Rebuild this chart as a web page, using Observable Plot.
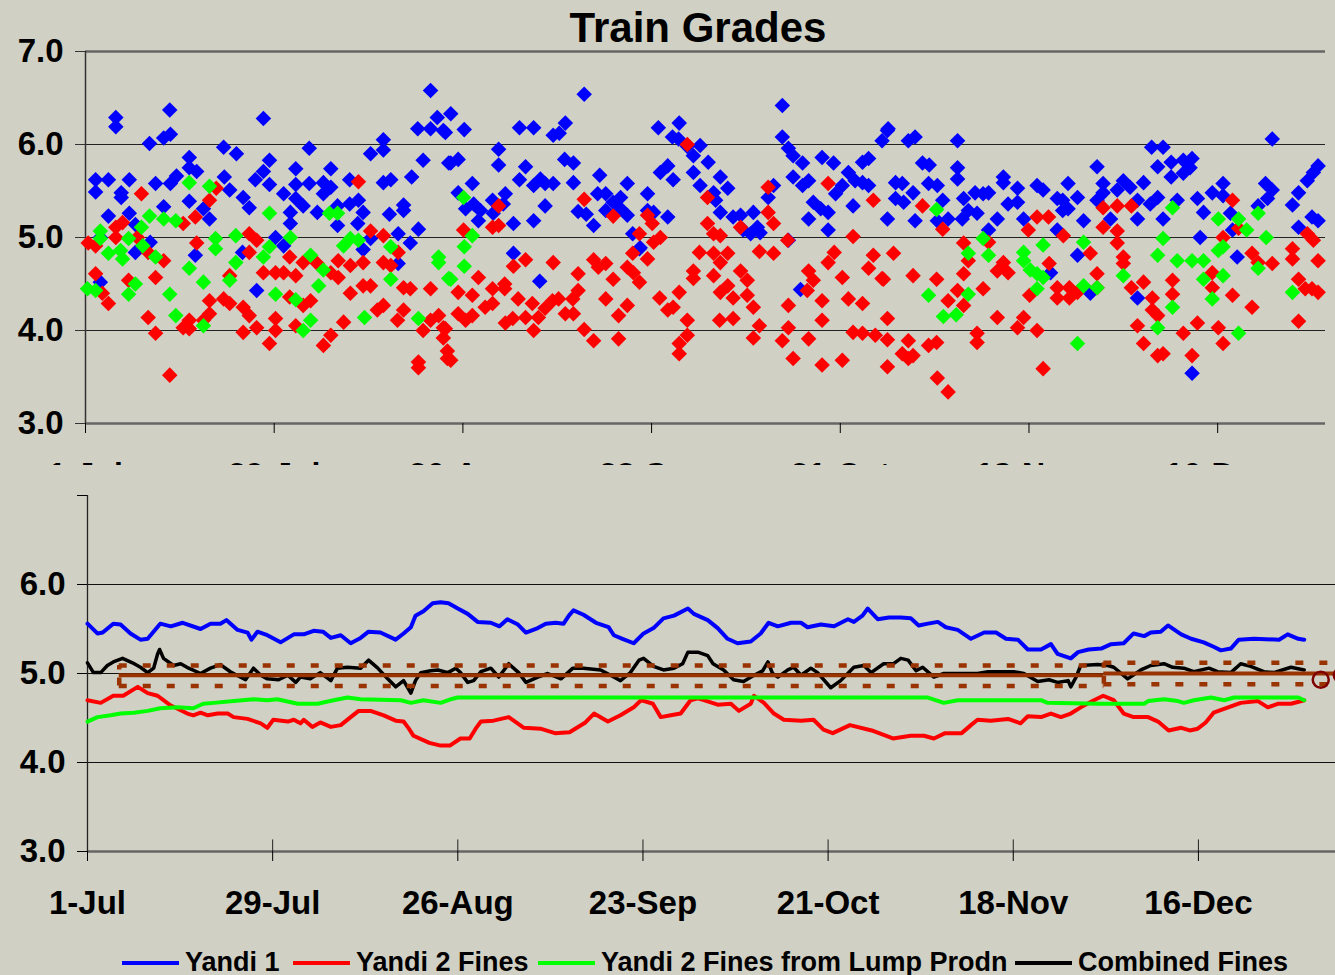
<!DOCTYPE html>
<html><head><meta charset="utf-8">
<script src="https://cdn.jsdelivr.net/npm/d3@7"></script>
<script src="https://cdn.jsdelivr.net/npm/@observablehq/plot@0.6"></script>
<style>
html,body{margin:0;padding:0;}
body{width:1335px;height:975px;overflow:hidden;position:relative;background:#D0D0C4;font-family:"Liberation Sans",Arial,sans-serif;font-weight:700;color:#000;}
#top{position:absolute;left:0;top:0;width:1335px;height:465px;overflow:hidden;}
#bottom{position:absolute;left:0;top:470px;width:1350px;height:460px;background:#D0D0C4;}
#title{position:absolute;left:0;width:1396px;text-align:center;top:7px;font-size:42px;line-height:42px;z-index:2;}
.leg{position:absolute;top:948px;font-size:27px;line-height:28px;white-space:nowrap;}
.sw{position:absolute;top:961px;height:4px;width:57px;}
</style></head>
<body>
<div id="top"></div>
<div id="title">Train Grades</div>
<div id="bottom"></div>
<div id="legend"></div>
<script>
// ---------- data ----------
const startDate = Date.UTC(2003, 6, 1);
const tickDays = [0, 28, 56, 84, 112, 140, 168];
const tickLabels = ["1-Jul", "29-Jul", "26-Aug", "23-Sep", "21-Oct", "18-Nov", "16-Dec"];
const yTicks = [3, 4, 5, 6, 7];
const gridValues = [4, 5, 6];
const seriesNames = ["Yandi 1", "Yandi 2 Fines", "Yandi 2 Fines from Lump Prodn", "Combined Fines"];
const seriesColors = ["#0000FF", "#FF0000", "#00FF00", "#000000"];

// top panel: individual trains [day since 1-Jul, grade]
const yandi1Trains = [[1.5,5.62],[1.5,5.49],[4.5,6.29],[4.5,6.19],[3.4,5.62],[3.4,5.23],[5.3,5.48],[5.3,5.43],[6.5,5.62],[6.5,5.26],[7.4,5.14],[9.5,6.01],[10.4,5.58],[11.6,5.33],[11.6,6.07],[12.6,6.11],[12.5,6.37],[12.6,5.58],[13.5,5.66],[15.4,5.86],[15.4,5.75],[16.5,5.71],[15.4,5.39],[17.5,5.31],[18.4,5.2],[20.5,5.97],[22.4,5.9],[20.6,5.65],[21.4,5.51],[23.4,5.43],[24.3,5.32],[26.4,6.28],[26.4,5.71],[27.3,5.83],[27.3,5.57],[25.2,5.62],[29.4,5.47],[31.2,5.74],[31.2,5.57],[30.4,5.27],[30.4,5.15],[31.2,5.42],[32.3,5.34],[33.2,5.96],[33.2,5.58],[34.4,5.27],[35.3,5.59],[35.3,5.47],[36.4,5.74],[36.4,5.54],[37.4,5.34],[37.4,5.13],[39.2,5.62],[39.2,5.36],[40.5,5.4],[40.4,5.15],[41.2,5.27],[42.3,5.9],[44.2,6.05],[44.2,5.94],[44.2,5.59],[45.3,5.62],[45.1,5.25],[47.2,5.35],[47.2,5.29],[48.4,5.65],[49.4,5.09],[49.3,6.17],[50.1,5.83],[51.2,6.58],[51.2,6.17],[52.2,6.29],[53.1,6.15],[53.9,5.8],
[2.2,5.0],[2.2,4.52],[7.4,4.84],[9.6,4.95],[16.3,4.81],[25.4,4.43],[23.3,4.84],[28.2,5.0],[29.4,4.91],[41.2,4.87],[42.3,4.99],[46.4,5.04],[46.4,4.72],[48.2,4.94],
[53.4,6.13],[54.2,6.33],[56.2,6.16],[54.2,5.8],[55.3,5.84],[61.3,5.95],[61.3,5.78],[55.3,5.48],[56.4,5.31],[57.4,5.58],[58.3,5.18],[57.6,5.36],[58.6,5.29],[60.4,5.4],[60.5,5.26],[62.3,5.47],[62.0,5.36],[63.5,5.15],[64.4,6.18],[66.5,6.18],[64.4,5.62],[65.3,5.76],[66.5,5.18],[66.5,5.56],[67.5,5.63],[68.2,5.58],[69.4,5.58],[68.2,5.34],[69.4,6.1],[70.3,6.12],[71.2,6.23],[71.1,5.84],[72.4,5.8],[72.4,5.59],[74.0,6.54],[73.1,5.28],[74.3,5.25],[75.4,5.13],[76.3,5.67],[76.0,5.47],[77.2,5.47],[77.2,5.29],[78.3,5.38],[79.4,5.43],[79.4,5.31],[80.4,5.58],[80.4,5.24],[81.2,5.04],[82.3,4.89],[83.4,5.47],[83.4,5.29],[84.3,5.27],[86.4,5.22],[85.0,6.18],[88.1,6.23],[87.1,6.08],[88.0,6.06],[89.3,5.98],[90.2,5.88],[91.2,5.99],[85.3,5.7],[86.4,5.77],[87.2,5.62],[90.2,5.7],[91.2,5.56],[92.4,5.81],[94.2,5.65],[95.3,5.53],[93.2,5.48],[93.5,5.4],[94.2,5.27],[96.1,5.22],[97.2,5.24],[97.6,5.08],[98.7,5.04],[99.1,5.27],[99.7,5.11],[100.1,5.05],[101.3,5.43],[102.1,5.56],[103.4,6.42],[103.4,6.08],[104.3,5.96],[105.0,5.88],[106.4,5.8],[105.0,5.65],[106.4,5.56],[107.3,5.61],[107.3,5.2],[108.0,5.38],[109.3,5.86],[109.1,5.31],[110.2,5.27],[110.2,5.08],[111.0,5.8],[111.3,5.47],[112.3,5.56],[113.2,5.7],[114.2,5.61],[113.9,5.34],[115.3,5.59],[115.3,5.81],[116.2,5.85],[116.2,5.56],[118.2,6.04],[119.0,6.15],[119.0,5.2],
[63.5,4.83],[67.4,4.53],[82.2,4.88],[106.1,4.44],[104.3,4.97],
[119.1,6.17],[122.1,6.04],[123.1,6.08],[129.4,6.04],[120.2,5.59],[121.2,5.58],[120.2,5.42],[121.4,5.38],[122.8,5.48],[123.1,5.18],[124.2,5.8],[125.2,5.78],[125.1,5.58],[126.4,5.56],[127.2,5.4],[128.0,5.2],[126.4,5.18],[129.4,5.75],[129.4,5.63],[130.3,5.42],[130.1,5.2],[131.0,5.29],[132.3,5.26],[132.0,5.48],[133.2,5.47],[134.0,5.48],[135.3,5.2],[134.0,5.08],[136.2,5.65],[136.2,5.59],[136.9,5.36],[138.3,5.53],[138.3,5.38],[139.2,5.2],[141.2,5.56],[142.1,5.51],[144.2,5.42],[144.2,5.08],[145.0,5.4],[145.0,5.29],[145.8,5.58],[145.8,5.31],[147.2,5.43],[148.1,5.18],[150.1,5.76],[150.1,5.4],[151.0,5.58],[151.0,5.48],[152.1,5.2],[153.1,5.51],[154.0,5.61],[155.0,5.54],[156.1,5.4],[157.0,5.59],[156.1,5.2],[158.2,5.97],[159.9,5.97],[159.1,5.76],[161.1,5.81],[161.1,5.65],[162.9,5.83],[164.2,5.85],[163.9,5.75],[162.9,5.69],[158.0,5.36],[159.1,5.43],[159.9,5.2],[162.0,5.4],[165.0,5.42],[165.9,5.27],[167.2,5.48],[168.8,5.58],[168.8,5.45],[169.9,5.26],[170.2,5.08],[165.4,5.0],[174.0,5.34],[175.1,5.58],[176.1,5.51],[175.4,5.42],[176.1,6.06],[179.1,5.35],[180.0,5.48],[180.0,5.11],[181.3,5.61],[182.2,5.7],[182.9,5.77],[182.0,5.22],[182.9,5.18],
[164.2,3.54],[156.1,4.35],[147.2,4.81],[170.9,4.79],[143.2,4.62],[149.1,4.4]];

const yandi2Trains = [[0.4,4.94],[1.5,4.91],[1.5,4.61],[2.5,4.4],[3.4,4.29],[4.5,5.0],[4.5,5.11],[5.5,5.16],[6.4,4.54],[7.7,5.0],[8.3,5.47],[9.3,4.14],[9.3,4.84],[10.4,3.97],[10.4,4.57],[11.6,4.75],[12.5,3.52],[14.5,4.03],[14.5,5.15],[15.4,4.11],[15.4,4.02],[16.5,4.94],[16.3,5.22],[17.5,4.11],[18.4,4.32],[18.4,4.18],[18.4,5.4],[19.4,5.53],[20.5,4.34],[21.4,4.29],[21.4,4.59],[23.4,3.98],[23.4,4.25],[24.3,4.16],[25.4,4.03],[24.3,5.04],[25.4,4.97],[24.3,4.84],[26.4,4.62],[27.3,3.86],[28.2,4.62],[28.2,4.13],[28.2,4.0],[29.4,4.62],[30.3,4.79],[31.2,4.59],[30.3,4.36],[31.2,4.05],[32.3,4.73],[33.4,4.32],[32.3,4.27],[34.4,4.72],[35.3,3.84],[36.4,3.95],[36.4,4.62],[37.5,4.75],[37.5,4.57],[38.3,4.09],[39.3,4.7],[39.3,4.4],[40.5,5.6],[41.2,4.48],[41.2,4.73],[42.3,5.07],[42.3,4.48],[44.2,5.02],[44.2,4.73],[43.3,4.22],[44.2,4.27],[45.3,4.7],[46.4,4.84],[46.3,4.11],[47.2,4.46],[47.2,4.22],[48.2,4.45],[49.4,3.66],[49.4,3.6],[51.2,4.45],[50.1,4.0],[51.2,4.11],[52.4,4.16],[53.1,3.92],[53.7,3.78],[53.7,3.7],[53.1,4.03],
[56.1,5.08],[55.3,4.41],[57.4,4.38],[58.3,4.57],[55.3,4.18],[56.4,4.11],[57.4,4.16],[53.4,4.02],[54.2,3.68],[60.4,5.11],[61.3,5.13],[61.3,5.34],[59.3,4.25],[60.4,4.45],[60.4,4.29],[62.2,4.5],[62.2,4.45],[63.5,4.69],[65.3,4.76],[64.2,4.34],[62.3,4.08],[63.4,4.13],[65.3,4.14],[66.3,4.29],[66.5,4.0],[67.2,4.14],[68.2,4.24],[69.3,4.32],[70.2,4.34],[69.4,4.73],[71.2,4.18],[72.3,4.34],[72.4,4.18],[73.1,4.43],[73.1,4.61],[74.0,4.01],[74.0,5.41],[75.4,3.89],[75.4,4.76],[76.1,4.68],[77.2,4.72],[77.2,4.34],[78.3,4.55],[78.3,5.23],[79.1,4.16],[79.1,3.91],[80.4,4.27],[80.4,4.68],[81.2,4.83],[81.3,4.62],[82.2,4.52],[82.2,5.04],[83.4,4.77],[83.4,5.24],[84.1,5.15],[84.3,4.95],[85.3,5.0],[85.2,4.35],[86.4,4.22],[87.2,4.25],[88.1,4.41],[89.3,4.11],[89.3,3.95],[88.1,3.86],[88.1,3.75],[89.3,6.0],[90.2,4.64],[90.2,4.56],[91.1,4.84],[92.3,5.43],[92.3,5.15],[93.2,5.04],[93.2,4.83],[93.2,4.59],[94.2,5.02],[94.2,4.73],[95.3,4.83],[94.2,4.41],[95.3,4.48],[96.1,4.35],[94.1,4.11],[96.1,4.13],[97.2,4.64],[97.2,5.11],[98.2,4.54],[98.2,4.38],[99.1,4.25],[100.0,4.05],[99.1,3.92],[100.0,4.85],[101.3,5.54],[101.3,5.27],[102.1,4.83],[102.1,5.15],[104.2,4.97],[104.3,4.27],[104.3,4.03],[103.4,3.89],[105.0,3.7],[107.1,4.43],[107.3,4.64],[108.0,4.54],[107.3,3.91],[109.3,4.32],[109.3,4.11],[109.3,3.63],[110.2,4.73],[110.2,5.58],[111.1,4.84],[112.3,4.57],[112.3,3.68],[113.2,4.34],[113.9,5.01],[113.9,3.98],[115.3,4.29],[115.3,3.97],[116.2,4.67],[116.9,4.81],[116.9,5.4],[117.2,3.95],[118.2,4.56],[119.0,4.13],[119.0,3.9],[119.0,3.61],
[119.9,4.83],[118.4,4.55],[122.1,3.89],[121.2,3.75],[122.1,3.7],[122.8,3.73],[122.8,4.59],[124.2,5.34],[125.1,3.84],[126.3,3.87],[126.3,4.55],[126.4,3.49],[127.2,5.09],[128.0,3.34],[128.0,4.32],[129.4,4.43],[130.3,4.27],[130.3,4.61],[130.3,4.94],[131.0,4.75],[132.3,3.97],[132.3,3.87],[133.2,4.45],[134.0,4.95],[135.3,4.14],[135.3,4.64],[136.2,4.73],[136.9,4.62],[138.3,4.03],[139.2,4.14],[139.9,5.08],[140.1,4.38],[141.2,4.0],[141.2,5.22],[142.1,3.59],[142.9,5.22],[143.0,4.72],[144.2,4.46],[144.2,4.35],[145.1,5.02],[146.0,4.46],[146.0,4.35],[147.2,4.41],[149.1,4.83],[150.1,4.61],[150.1,4.46],[151.0,5.11],[151.0,5.32],[153.1,5.07],[153.1,4.94],[153.1,5.34],[154.0,4.79],[154.0,4.72],[155.2,4.46],[155.2,5.34],[157.0,4.52],[158.3,4.35],[158.3,4.22],[159.1,4.16],[156.1,4.05],[157.0,3.86],[159.1,3.73],[159.9,3.75],[161.3,4.54],[161.3,4.39],[162.9,3.97],[164.2,3.73],[165.0,4.08],[167.2,4.62],[167.2,4.46],[168.1,4.03],[168.8,3.86],[168.8,5.0],[170.2,4.38],[170.2,5.4],[171.1,5.1],[173.1,4.25],[173.1,4.83],[174.0,4.73],[176.1,4.72],[179.1,4.88],[179.1,4.77],[180.0,4.55],[180.0,4.1],[181.0,4.45],[182.0,4.45],[182.9,4.41],[182.9,4.75],[181.3,5.04],[182.2,4.97]];

const lumpTrains = [[0.3,4.45],[1.5,4.43],[2.2,5.07],[2.2,4.99],[3.4,4.83],[5.2,4.86],[5.5,4.77],[6.4,4.99],[6.4,4.39],[7.4,4.5],[8.3,5.11],[8.5,4.91],[9.5,5.23],[10.4,4.79],[11.6,5.2],[12.5,4.39],[13.4,5.18],[13.4,4.16],[15.4,5.59],[15.4,4.67],[17.5,4.52],[17.5,4.05],[18.4,5.55],[19.3,4.99],[19.3,4.88],[21.4,4.54],[22.3,5.02],[22.3,4.73],[26.4,4.79],[27.3,5.26],[27.3,4.9],[28.2,4.39],[30.4,5.0],[31.2,4.33],[32.3,4.0],[33.4,4.11],[33.4,4.81],[34.6,4.48],[35.3,4.65],[36.2,5.26],[37.4,5.26],[38.3,4.91],[39.3,4.99],[40.5,4.97],[41.4,4.14],[45.3,4.9],[45.3,4.55],[49.4,4.13],[52.4,4.79],[52.4,4.73],[53.9,4.56],[54.2,4.55],[56.2,4.9],[56.2,4.69],[57.4,5.02],[56.1,5.43],
[125.1,4.38],[126.3,5.3],[127.3,4.15],[129.2,4.17],[131.0,4.39],[131.0,4.83],[133.2,4.99],[134.0,4.81],[139.2,4.84],[139.2,4.75],[140.2,4.65],[141.2,4.61],[142.1,4.57],[142.1,4.92],[141.2,4.45],[147.2,3.86],[148.1,4.95],[148.1,4.48],[150.1,4.46],[154.0,4.59],[159.9,4.99],[159.1,4.81],[159.1,4.03],[161.3,4.25],[161.3,5.32],[162.0,4.75],[164.2,4.75],[165.9,4.75],[165.9,4.55],[167.2,4.34],[168.1,4.86],[168.1,5.2],[168.8,4.59],[168.8,4.9],[171.1,3.97],[171.1,5.2],[172.3,5.08],[174.0,4.67],[174.0,5.26],[175.2,5.0],[179.1,4.41]];

// bottom panel: rolling averages [day, grade]
const yandi1Avg = [[0,5.56],[1.5,5.45],[2.3,5.46],[3.9,5.56],[5.0,5.55],[6.5,5.45],[8.0,5.38],[9.1,5.39],[11.0,5.56],[12.6,5.53],[14.4,5.57],[17.1,5.5],[18.6,5.56],[20.1,5.56],[21.0,5.6],[22.7,5.49],[24.2,5.46],[24.8,5.38],[25.7,5.47],[27.2,5.43],[29.2,5.35],[31.2,5.44],[32.7,5.44],[34.2,5.48],[35.6,5.47],[36.8,5.4],[38.3,5.43],[39.8,5.34],[41.3,5.4],[42.5,5.47],[44.3,5.46],[46.6,5.38],[47.8,5.45],[48.9,5.52],[49.6,5.65],[50.8,5.7],[52.2,5.79],[53.4,5.8],[54.6,5.79],[56.0,5.73],[57.5,5.67],[59.0,5.58],[61.0,5.57],[62.3,5.53],[63.5,5.61],[65.1,5.55],[66.3,5.46],[68.1,5.51],[69.3,5.56],[70.8,5.57],[72.0,5.56],[72.8,5.65],[73.5,5.71],[75.0,5.66],[76.9,5.57],[78.8,5.52],[79.6,5.43],[80.9,5.39],[82.6,5.34],[84.1,5.45],[85.6,5.51],[87.1,5.62],[88.7,5.65],[90.8,5.73],[91.7,5.67],[93.8,5.6],[95.3,5.51],[96.8,5.39],[98.3,5.34],[100.3,5.36],[101.8,5.45],[103.0,5.57],[104.4,5.53],[106.4,5.57],[107.9,5.57],[108.9,5.52],[110.9,5.55],[112.9,5.53],[115.0,5.61],[115.9,5.58],[117.2,5.65],[118.0,5.73],[119.5,5.61],[121.2,5.63],[123.0,5.63],[124.5,5.62],[125.7,5.54],[127.1,5.56],[128.6,5.58],[129.8,5.52],[131.6,5.49],[133.6,5.39],[135.6,5.46],[137.4,5.46],[138.9,5.39],[140.7,5.38],[142.2,5.27],[144.2,5.27],[145.7,5.33],[146.7,5.22],[148.7,5.17],[149.8,5.24],[151.4,5.27],[153.3,5.28],[154.8,5.33],[156.7,5.34],[158.2,5.45],[159.8,5.42],[160.8,5.46],[162.3,5.47],[163.4,5.54],[165.4,5.44],[166.9,5.39],[168.8,5.35],[170.3,5.3],[171.4,5.26],[172.9,5.28],[174.1,5.38],[176.4,5.39],[180.2,5.38],[181.5,5.44],[183.1,5.39],[184.0,5.38]];

const yandi2Avg = [[0,4.70],[2.0,4.67],[3.9,4.75],[5.4,4.75],[7.6,4.85],[9.1,4.78],[10.6,4.75],[12.6,4.64],[15.1,4.55],[16.0,4.53],[17.1,4.56],[18.2,4.53],[19.7,4.55],[21.2,4.55],[22.1,4.51],[24.2,4.49],[26.2,4.44],[27.2,4.39],[28.1,4.48],[30.3,4.46],[31.2,4.48],[32.2,4.44],[32.7,4.48],[34.0,4.40],[35.2,4.45],[36.8,4.40],[38.3,4.42],[39.8,4.51],[41.0,4.58],[42.8,4.58],[44.8,4.53],[46.6,4.47],[47.8,4.46],[48.6,4.38],[49.3,4.30],[51.7,4.22],[53.4,4.19],[54.8,4.19],[56.4,4.27],[57.8,4.27],[58.7,4.38],[59.5,4.46],[61.4,4.47],[63.7,4.51],[66.0,4.39],[68.5,4.38],[70.7,4.33],[72.9,4.34],[75.3,4.45],[76.6,4.55],[78.7,4.46],[80.6,4.53],[82.6,4.62],[83.7,4.70],[85.5,4.66],[86.7,4.51],[88.2,4.53],[89.7,4.55],[91.2,4.70],[92.3,4.72],[93.2,4.70],[95.3,4.65],[97.3,4.66],[98.5,4.58],[100.3,4.66],[100.8,4.75],[102.3,4.67],[103.8,4.55],[105.3,4.48],[107.9,4.47],[109.8,4.48],[111.3,4.37],[112.7,4.33],[115.3,4.42],[118.6,4.36],[121.8,4.27],[124.5,4.30],[126.5,4.30],[128.0,4.27],[129.7,4.33],[132.2,4.33],[133.6,4.42],[134.6,4.48],[136.6,4.47],[139.2,4.49],[141.1,4.44],[142.2,4.52],[144.2,4.51],[145.7,4.55],[147.2,4.51],[148.7,4.55],[150.2,4.62],[152.2,4.70],[153.6,4.75],[155.2,4.70],[156.7,4.55],[158.2,4.51],[160.4,4.51],[161.9,4.46],[163.5,4.36],[165.4,4.39],[166.7,4.36],[167.9,4.38],[169.1,4.45],[170.3,4.56],[172.5,4.62],[174.4,4.67],[177.0,4.69],[178.5,4.62],[180.0,4.66],[182.0,4.66],[184.0,4.70]];

const lumpAvg = [[0,4.46],[1.5,4.51],[3.5,4.53],[5.0,4.55],[7.0,4.56],[9.1,4.58],[11.0,4.61],[13.6,4.62],[16.0,4.61],[17.5,4.66],[19.1,4.67],[22.1,4.69],[25.1,4.71],[27.2,4.70],[28.7,4.71],[31.8,4.66],[34.8,4.66],[37.2,4.70],[39.3,4.73],[41.3,4.71],[47.4,4.70],[48.9,4.67],[50.8,4.70],[53.4,4.67],[54.9,4.71],[56.0,4.73],[120.0,4.73],[127.1,4.73],[129.5,4.67],[131.6,4.70],[144.2,4.70],[145.2,4.67],[152.8,4.66],[159.8,4.66],[160.4,4.69],[162.8,4.71],[164.9,4.69],[165.8,4.67],[167.3,4.70],[169.9,4.73],[171.9,4.70],[173.4,4.73],[183.1,4.73],[184.0,4.70]];

const combinedAvg = [[0,5.12],[0.9,5.01],[2.0,5.01],[3.0,5.09],[3.9,5.13],[5.3,5.17],[6.8,5.12],[8.0,5.07],[9.1,5.01],[10.0,5.06],[10.6,5.22],[10.9,5.27],[11.5,5.17],[13.0,5.09],[14.1,5.11],[15.3,5.06],[17.1,5.0],[18.6,5.06],[20.1,5.1],[21.6,5.02],[23.1,4.96],[23.9,4.93],[25.1,5.06],[26.2,4.98],[27.2,4.94],[28.9,4.93],[30.3,4.98],[31.5,4.9],[32.2,4.96],[33.7,4.94],[35.2,5.01],[36.8,4.92],[37.8,5.06],[39.3,5.07],[41.3,5.06],[42.5,5.15],[43.9,5.06],[45.4,4.94],[46.6,4.85],[47.8,4.92],[48.9,4.78],[49.6,4.92],[50.4,5.01],[51.9,5.03],[53.0,5.04],[54.5,5.01],[55.7,5.06],[56.4,5.01],[57.5,4.9],[58.4,4.92],[59.5,5.02],[61.0,5.06],[62.2,4.96],[63.7,5.11],[65.2,5.01],[66.3,4.9],[68.1,4.96],[69.6,5.0],[71.6,4.94],[73.4,5.06],[75.0,5.06],[77.6,5.04],[79.1,4.98],[80.6,4.92],[82.1,5.01],[83.4,5.15],[84.1,5.17],[85.6,5.08],[87.1,5.04],[88.7,5.06],[90.0,5.11],[90.8,5.24],[92.3,5.24],[93.8,5.2],[94.6,5.11],[96.2,5.04],[97.7,4.93],[99.2,4.91],[100.8,4.98],[102.1,5.03],[102.9,5.13],[103.6,5.0],[104.4,4.96],[105.9,5.04],[106.8,5.07],[107.9,4.98],[109.4,5.06],[110.4,5.01],[112.4,4.84],[113.9,4.92],[115.9,5.07],[117.4,5.09],[118.5,5.01],[120.4,5.11],[121.9,5.11],[123.0,5.17],[124.1,5.15],[125.3,5.03],[126.3,5.07],[128.0,4.96],[129.5,5.0],[132.1,5.0],[134.6,5.0],[136.2,5.02],[140.1,5.02],[141.6,5.0],[143.7,4.91],[145.4,4.93],[146.7,4.9],[148.3,4.92],[148.7,4.85],[149.5,4.96],[150.2,5.09],[152.8,5.1],[154.3,5.09],[155.2,5.07],[157.3,4.94],[159.3,5.04],[160.8,5.09],[162.8,5.11],[164.1,5.07],[165.8,5.06],[167.3,5.02],[169.6,5.06],[170.9,5.02],[172.9,5.01],[174.4,5.11],[175.9,5.08],[177.9,5.02],[179.4,5.01],[182.0,5.07],[184.0,5.04]];

// target bands
const targetStart = [4.8, 153.7];
const targetEnd = [153.7, 191];
const targetMid = [4.98, 5.0];
const targetUpper = [5.09, 5.12];
const targetLower = [4.86, 4.88];
// end-of-period markers [day, grade]
const openMarker = [[186.5, 4.93]];
const filledMarker = [[189.5, 4.98]];

// ---------- build ----------
const day = d => new Date(startDate + d * 86400000);
const toObj = arr => arr.map(([d, v]) => ({date: day(d), value: v}));
const tickDates = tickDays.map(day);
const labelMap = new Map(tickDates.map((d, i) => [+d, tickLabels[i]]));
const fmtX = d => labelMap.get(+d) ?? "";
const targets = targetStart.map((s, i) => ({start: day(s), end: day(targetEnd[i]), mid: targetMid[i], hi: targetUpper[i], lo: targetLower[i]}));
const brown = "#993300";
const font = '"Liberation Sans", Arial, sans-serif';
const baseStyle = {background: "none", fontFamily: font, fontWeight: "bold", color: "#000", maxWidth: "none", overflow: "hidden"};

const topPlot = Plot.plot({
  width: 1335, height: 520,
  marginTop: 51, marginBottom: 97, marginLeft: 85, marginRight: 10,
  x: {type: "utc", domain: [day(0), day(184)], label: null},
  y: {domain: [3, 7], label: null},
  style: baseStyle,
  marks: [
    Plot.ruleY(gridValues, {stroke: "#222", strokeWidth: 1.2}),
    Plot.ruleY([7], {stroke: "#666", strokeWidth: 2.5}),
    Plot.ruleY([3], {stroke: "#666", strokeWidth: 2.5}),
    Plot.ruleX([day(0)], {stroke: "#333", strokeWidth: 1.5}),
    Plot.axisY({ticks: yTicks, tickFormat: d => d.toFixed(1), tickSize: 10, tickPadding: 12, fontSize: 33, fontWeight: "bold", stroke: "#333"}),
    Plot.axisX({ticks: tickDates, tickFormat: fmtX, tickSize: 10, tickPadding: 29, fontSize: 32, fontWeight: "bold"}),
    Plot.dot(toObj(yandi1Trains), {x: "date", y: "value", symbol: "diamond2", r: 7, fill: seriesColors[0]}),
    Plot.dot(toObj(yandi2Trains), {x: "date", y: "value", symbol: "diamond2", r: 7, fill: seriesColors[1]}),
    Plot.dot(toObj(lumpTrains), {x: "date", y: "value", symbol: "diamond2", r: 7, fill: seriesColors[2]})
  ]
});
document.getElementById("top").appendChild(topPlot);

const bottomPlot = Plot.plot({
  width: 1350, height: 460,
  marginTop: 25, marginBottom: 79, marginLeft: 87, marginRight: 0,
  x: {type: "utc", domain: [day(0), day(191)], label: null},
  y: {domain: [3, 7], label: null},
  style: baseStyle,
  marks: [
    Plot.ruleY(gridValues, {stroke: "#111", strokeWidth: 1.2}),
    Plot.ruleY([3], {stroke: "#666", strokeWidth: 2.5}),
    Plot.ruleX([day(0)], {stroke: "#222", strokeWidth: 1.3}),
    Plot.axisY({ticks: yTicks, tickFormat: d => d === 7 ? "" : d.toFixed(1), tickSize: 10, tickPadding: 12, fontSize: 33, fontWeight: "bold"}),
    Plot.axisX({ticks: tickDates, tickFormat: fmtX, tickSize: 10, tickPadding: 29, fontSize: 33, fontWeight: "bold"}),
    Plot.ruleX(tickDates, {y1: 3, y2: 3.13, stroke: "#222"}),
    Plot.line(toObj(yandi1Avg), {x: "date", y: "value", stroke: seriesColors[0], strokeWidth: 4}),
    Plot.line(toObj(yandi2Avg), {x: "date", y: "value", stroke: seriesColors[1], strokeWidth: 4}),
    Plot.line(toObj(lumpAvg), {x: "date", y: "value", stroke: seriesColors[2], strokeWidth: 4}),
    Plot.line(toObj(combinedAvg), {x: "date", y: "value", stroke: seriesColors[3], strokeWidth: 3.5}),
    Plot.ruleY(targets, {y: "mid", x1: "start", x2: "end", stroke: brown, strokeWidth: 4}),
    Plot.ruleY(targets, {y: "hi", x1: "start", x2: "end", stroke: brown, strokeWidth: 4.5, strokeDasharray: "8 16"}),
    Plot.ruleY(targets, {y: "lo", x1: "start", x2: "end", stroke: brown, strokeWidth: 4.5, strokeDasharray: "8 16"}),
    Plot.ruleX(targets, {x: "start", y1: "lo", y2: "hi", stroke: brown, strokeWidth: 4.5, strokeDasharray: "8 8"}),
    Plot.dot(toObj(openMarker), {x: "date", y: "value", r: 8, stroke: "#800000", strokeWidth: 2.5, fill: "none"}),
    Plot.dot(toObj(filledMarker), {x: "date", y: "value", r: 8, fill: "#800000"})
  ]
});
document.getElementById("bottom").appendChild(bottomPlot);

// legend
const legendX = [122, 293, 538, 1015];
const legend = document.getElementById("legend");
seriesNames.forEach((name, i) => {
  const sw = document.createElement("div");
  sw.className = "sw";
  sw.style.left = legendX[i] + "px";
  sw.style.background = seriesColors[i];
  legend.appendChild(sw);
  const t = document.createElement("div");
  t.className = "leg";
  t.style.left = (legendX[i] + 63) + "px";
  t.textContent = name;
  legend.appendChild(t);
});
</script>
</body></html>
